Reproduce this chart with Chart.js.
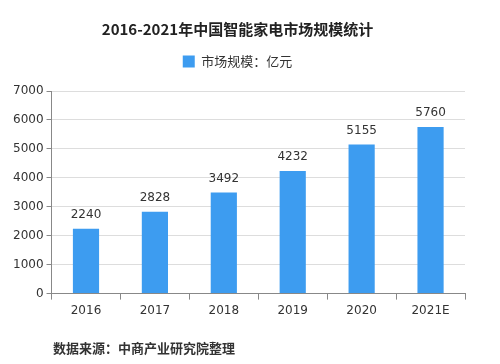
<!DOCTYPE html>
<html>
<head>
<meta charset="utf-8">
<script src="https://cdn.jsdelivr.net/npm/chart.js@4/dist/chart.umd.min.js"></script>
<style>
  body { margin: 0; background: #fff; }
  #wrap { position: relative; width: 500px; height: 364px; }
  #source {
    position: absolute; left: 53px; top: 338px;
    font: bold 13px "Noto Sans CJK SC", sans-serif; color: #333;
  }
</style>
</head>
<body>
<div id="wrap">
  <canvas id="marketChart" width="500" height="364"></canvas>
  <div id="source">数据来源：中商产业研究院整理</div>
</div>
<script>
// Chart data
const years = ['2016', '2017', '2018', '2019', '2020', '2021E'];
const marketSize = [2240, 2828, 3492, 4232, 5155, 5760];
const yTicks = [0, 1000, 2000, 3000, 4000, 5000, 6000, 7000];

const cjkFont = '"Noto Sans CJK SC", "Noto Sans", sans-serif';
const numFont = '"DejaVu Sans", sans-serif';

// Draw the value above each bar
const valueLabels = {
  id: 'valueLabels',
  afterDatasetsDraw(chart) {
    const ctx = chart.ctx;
    const meta = chart.getDatasetMeta(0);
    ctx.save();
    ctx.font = '12px ' + numFont;
    ctx.fillStyle = '#333';
    ctx.textAlign = 'center';
    ctx.textBaseline = 'bottom';
    meta.data.forEach((bar, i) => {
      ctx.fillText(marketSize[i], bar.x, bar.y - 8);
    });
    ctx.restore();
  }
};

// Extra space under the legend
const legendGap = {
  id: 'legendGap',
  beforeInit(chart) {
    const fit = chart.legend.fit;
    chart.legend.fit = function () {
      fit.bind(chart.legend)();
      this.height += 13;
    };
  }
};

const marketChart = new Chart(document.getElementById('marketChart'), {
  type: 'bar',
  data: {
    labels: years,
    datasets: [{
      label: '市场规模：亿元',
      data: marketSize,
      backgroundColor: '#3d9cf0',
      barPercentage: 0.38,
      categoryPercentage: 1.0
    }]
  },
  options: {
    responsive: false,
    animation: false,
    layout: { padding: { left: 10, right: 35, top: 0, bottom: 42 } },
    plugins: {
      title: {
        display: true,
        text: '2016-2021年中国智能家电市场规模统计',
        font: { family: cjkFont, size: 15, weight: 'bold' },
        color: '#222',
        padding: { top: 20, bottom: 1 }
      },
      legend: {
        display: true,
        labels: {
          boxWidth: 12, boxHeight: 12,
          font: { family: cjkFont, size: 13 },
          color: '#333',
          padding: 16
        }
      },
      tooltip: { enabled: false }
    },
    scales: {
      x: {
        grid: { display: true, drawOnChartArea: false, drawTicks: true, tickLength: 6, color: '#888' },
        border: { color: '#888' },
        ticks: { font: { family: numFont, size: 12 }, color: '#333', padding: 4 }
      },
      y: {
        min: 0, max: 7000,
        afterBuildTicks(axis) { axis.ticks = yTicks.map(v => ({ value: v })); },
        grid: { color: '#ddd', tickLength: 5, tickColor: '#888' },
        border: { color: '#888' },
        ticks: {
          font: { family: numFont, size: 12 }, color: '#333', padding: 3,
          callback: v => String(v)
        }
      }
    }
  },
  plugins: [valueLabels, legendGap]
});
</script>
</body>
</html>
